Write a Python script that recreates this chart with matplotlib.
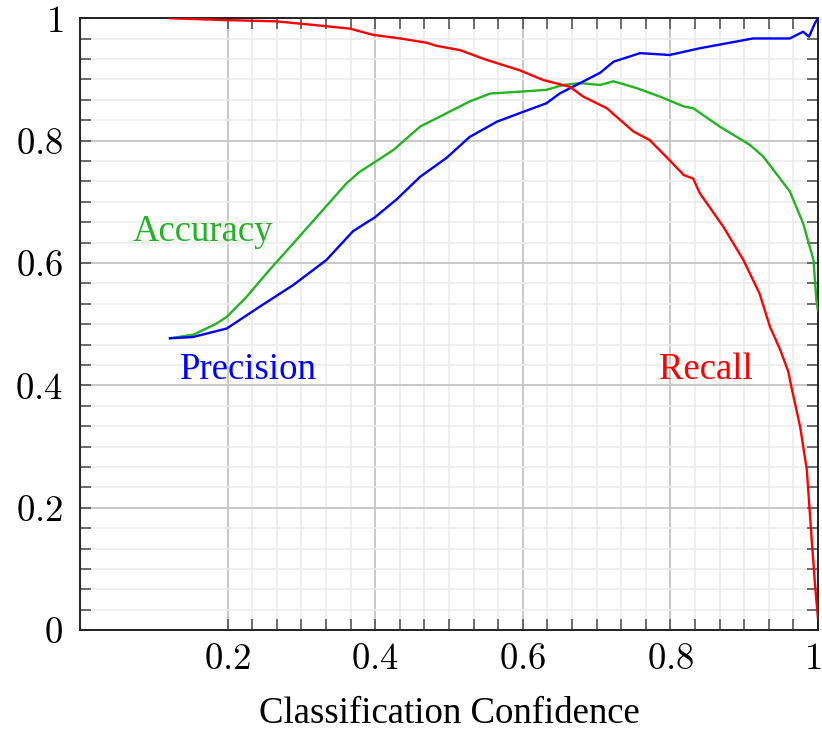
import numpy as np
import matplotlib
matplotlib.use('Agg')
import matplotlib.pyplot as plt
import matplotlib.transforms as mtransforms
from matplotlib.ticker import FixedLocator, FixedFormatter

plt.rcParams['font.family'] = ['Liberation Serif', 'DejaVu Serif']
plt.rcParams['mathtext.fontset'] = 'cm'

# curves
prec_x = [0.122, 0.153, 0.199, 0.244, 0.289, 0.334, 0.370, 0.400, 0.430, 0.461, 0.497,
          0.528, 0.565, 0.596, 0.632, 0.650, 0.668, 0.705, 0.723, 0.759, 0.799, 0.840,
          0.876, 0.912, 0.962, 0.980, 0.988, 0.996, 1.0]
prec_y = [0.477, 0.479, 0.493, 0.529, 0.564, 0.605, 0.652, 0.675, 0.705, 0.741, 0.772,
          0.806, 0.831, 0.845, 0.861, 0.877, 0.888, 0.911, 0.929, 0.943, 0.940, 0.951,
          0.959, 0.967, 0.967, 0.978, 0.970, 0.992, 1.0]

acc_x = [0.122, 0.154, 0.185, 0.199, 0.226, 0.257, 0.289, 0.325, 0.361, 0.379, 0.397,
         0.425, 0.461, 0.497, 0.528, 0.556, 0.596, 0.632, 0.655, 0.678, 0.705, 0.723,
         0.754, 0.786, 0.818, 0.831, 0.867, 0.908, 0.926, 0.962, 0.980, 0.994, 0.998, 1.0]
acc_y = [0.477, 0.483, 0.501, 0.512, 0.545, 0.589, 0.632, 0.681, 0.730, 0.749, 0.763,
         0.785, 0.823, 0.845, 0.864, 0.877, 0.880, 0.883, 0.891, 0.894, 0.891, 0.897,
         0.886, 0.872, 0.856, 0.853, 0.823, 0.793, 0.774, 0.717, 0.665, 0.605, 0.539, 0.523]

rec_x = [0.122, 0.199, 0.266, 0.334, 0.366, 0.397, 0.434, 0.470, 0.483, 0.515, 0.551,
         0.596, 0.628, 0.664, 0.682, 0.714, 0.750, 0.772, 0.799, 0.818, 0.831, 0.840,
         0.872, 0.899, 0.921, 0.935, 0.949, 0.960, 0.964, 0.976, 0.985, 0.991, 0.996, 1.0]
rec_y = [1.0, 0.997, 0.995, 0.987, 0.983, 0.973, 0.967, 0.960, 0.955, 0.948, 0.932,
         0.915, 0.899, 0.888, 0.872, 0.853, 0.815, 0.801, 0.768, 0.744, 0.738, 0.714,
         0.659, 0.605, 0.550, 0.496, 0.458, 0.422, 0.398, 0.332, 0.262, 0.158, 0.076, 0.02]

x_ticks = [0.2, 0.4, 0.6, 0.8, 1.0]
x_labels = ['$0.2$', '$0.4$', '$0.6$', '$0.8$', '$1$']
y_ticks = [0, 0.2, 0.4, 0.6, 0.8, 1.0]
y_labels = ['$0$', '$0.2$', '$0.4$', '$0.6$', '$0.8$', '$1$']

GREEN = '#22b422'
fs = 26.5

fig = plt.figure(figsize=(8.22, 7.31), dpi=100)
ax = fig.add_axes([0.0973, 0.138, 0.8977, 0.837])

ax.plot(acc_x, acc_y, color=GREEN, lw=1.7, zorder=3)
ax.plot(prec_x, prec_y, color='#0000ff', lw=1.7, zorder=3)
ax.plot(rec_x, rec_y, color='#ff0000', lw=1.7, zorder=3)

ax.text(0.167, 0.651, 'Accuracy', color=GREEN, fontsize=fs, ha='center', va='center')
ax.text(0.228, 0.425, 'Precision', color='#0000ff', fontsize=fs, ha='center', va='center')
ax.text(0.848, 0.425, 'Recall', color='#ff0000', fontsize=fs, ha='center', va='center')

ax.set_xlim(0, 1)
ax.set_ylim(0, 1)

ax.xaxis.set_major_locator(FixedLocator(x_ticks))
ax.xaxis.set_major_formatter(FixedFormatter(x_labels))
ax.yaxis.set_major_locator(FixedLocator(y_ticks))
ax.yaxis.set_major_formatter(FixedFormatter(y_labels))
# minor steps of 1/30, x only from 0.2 on
ax.xaxis.set_minor_locator(FixedLocator(np.arange(6, 31) / 30))
ax.yaxis.set_minor_locator(FixedLocator(np.arange(0, 31) / 30))

ax.grid(which='minor', color='#ececec', lw=1.2, zorder=0)
ax.grid(which='major', color='#c4c4c4', lw=1.3, zorder=1)
ax.set_axisbelow(True)

ax.tick_params(which='both', direction='in', top=True, right=True,
               color='#555555', width=1.2, labelsize=fs)
ax.tick_params(which='major', length=8)
ax.tick_params(which='minor', length=8)
ax.tick_params(axis='x', which='major', pad=9)
ax.tick_params(axis='y', which='major', pad=12)

# nudge the "1" at the right edge so it stays inside the figure
last = ax.get_xticklabels()[-1]
last.set_transform(last.get_transform() +
                   mtransforms.ScaledTranslation(-4 / 72, 0, fig.dpi_scale_trans))

for s in ax.spines.values():
    s.set_color('#222222')
    s.set_linewidth(1.4)

ax.set_xlabel('Classification Confidence', fontsize=fs, labelpad=14)

fig.savefig('out.png', dpi=100)
